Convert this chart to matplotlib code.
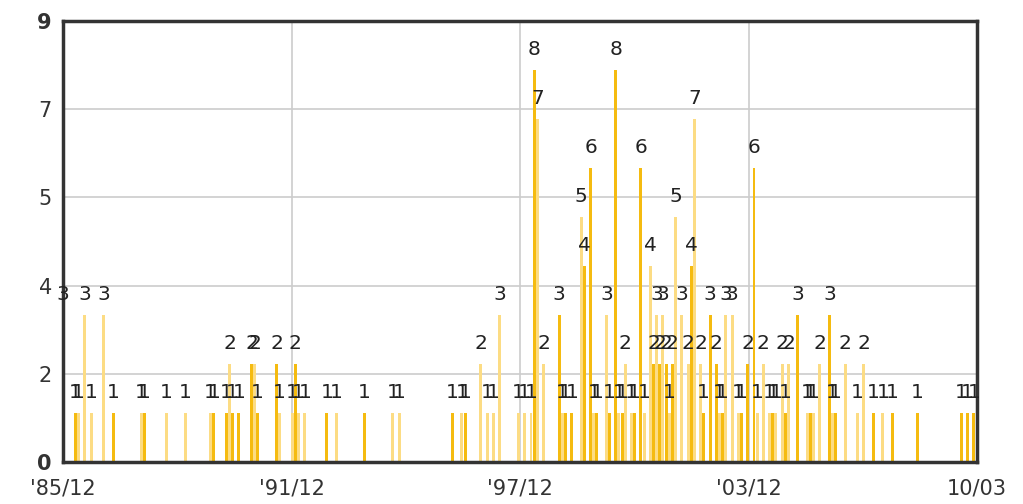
import numpy as np
import matplotlib.pyplot as plt

# month offsets counted from Dec 1985 (0) to Mar 2010 (291)
month_idx = [0, 4, 5, 7, 9, 13, 16, 25, 26, 33, 39,
             47, 48, 52, 53, 54, 56, 60, 61, 62, 68, 69, 73, 74, 75, 77,
             84, 87, 96, 105, 107, 124, 127, 128, 133, 135, 137, 139,
             145, 147, 149, 150, 151, 153, 158, 159, 160, 162,
             165, 166, 168, 169, 170, 173, 174, 176, 177, 178, 179, 181, 182,
             184, 185, 187, 188, 189, 190, 191, 192, 193, 194, 195, 197, 199,
             200, 201, 203, 204, 206, 208, 209, 210, 211, 213, 215, 216, 218,
             220, 221, 223, 225, 226, 227, 229, 230, 231, 234, 237, 238, 239,
             241, 244, 245, 246, 249, 253, 255, 258, 261, 264, 272, 286, 288, 290]
counts = [3, 1, 1, 3, 1, 3, 1, 1, 1, 1, 1,
          1, 1, 1, 2, 1, 1, 2, 2, 1, 2, 1, 1, 2, 1, 1,
          1, 1, 1, 1, 1, 1, 1, 1, 2, 1, 1, 3,
          1, 1, 1, 8, 7, 2, 3, 1, 1, 1,
          5, 4, 6, 1, 1, 3, 1, 8, 1, 1, 2, 1, 1,
          6, 1, 4, 2, 3, 2, 3, 2, 1, 2, 5, 3, 2,
          4, 7, 2, 1, 3, 2, 1, 1, 3, 3, 1, 1, 2,
          6, 1, 2, 1, 1, 1, 2, 1, 2, 3, 1, 1, 1,
          2, 3, 1, 1, 2, 1, 2, 1, 1, 1, 1, 1, 1, 1]

x_ticks_lbl = ["'85/12", "'91/12", "'97/12", "'03/12", "10/03"]
y_ticks_lbl = ["0", "2", "4", "5", "7", "9"]
n_months = 291
y_max = 9

month_idx = np.array(month_idx)
counts = np.array(counts)

dark = '#f5bb10'
light = '#fcdc84'
colors = [dark if m % 2 == 0 else light for m in month_idx]

fig = plt.figure(figsize=(10.23, 5.04), dpi=100)
ax = fig.add_axes([63/1023, 42/504, 914/1023, 441/504])

ax.bar(month_idx, counts, width=0.95, color=colors, linewidth=0, zorder=2)

for m, c in zip(month_idx, counts):
    ax.annotate(str(c), (m, c), xytext=(0, 11), textcoords='offset points',
                ha='center', va='baseline', fontsize=14.5, color='#222222',
                annotation_clip=False, zorder=4)

ax.set_xlim(0, n_months)
ax.set_ylim(0, y_max)

ax.set_xticks(np.linspace(0, n_months, len(x_ticks_lbl)))
ax.set_xticklabels(x_ticks_lbl, fontsize=15, color='#333333')
ax.set_yticks(np.linspace(0, y_max, len(y_ticks_lbl)))
ax.set_yticklabels(y_ticks_lbl, fontsize=15, color='#333333')
for t in ax.get_yticklabels():
    if t.get_text() in ('0', '9'):
        t.set_fontweight('bold')
ax.tick_params(axis='x', length=0, pad=12)
ax.tick_params(axis='y', length=0, pad=8)

ax.grid(True, color='#cccccc', linewidth=1.2)
ax.set_axisbelow(True)
for s in ax.spines.values():
    s.set_linewidth(2.5)
    s.set_color('#333333')
    s.set_zorder(3)

fig.savefig('out.png', dpi=100)
